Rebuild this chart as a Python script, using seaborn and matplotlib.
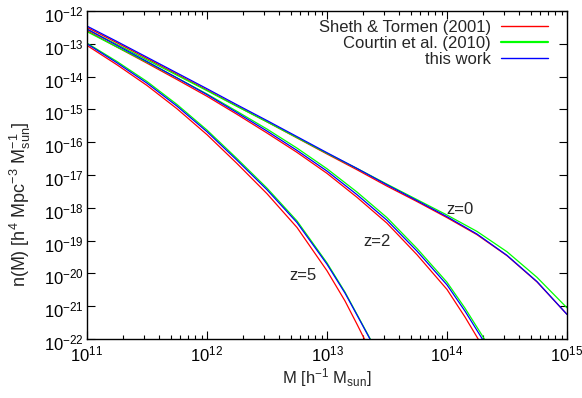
import numpy as np
import pandas as pd
import matplotlib
matplotlib.use("Agg")
import matplotlib.pyplot as plt
import matplotlib.transforms as mtransforms
import seaborn as sns
from matplotlib.ticker import LogLocator, NullLocator, NullFormatter

# ---- data (log10 values) ----
logM_z0 = [11.0, 11.25, 11.5, 11.75, 12.0, 12.25, 12.5, 12.75, 13.0, 13.25, 13.5, 13.75, 14.0, 14.25, 14.5, 14.75, 15.0]
st_z0 = [-12.50, -12.97, -13.45, -13.93, -14.41, -14.90, -15.38, -15.87, -16.36, -16.84, -17.34, -17.81, -18.30, -18.82, -19.46, -20.26, -21.25]
co_z0 = [-12.56, -13.02, -13.49, -13.96, -14.43, -14.91, -15.38, -15.86, -16.34, -16.80, -17.28, -17.75, -18.22, -18.72, -19.34, -20.12, -21.05]
tw_z0 = [-12.46, -12.93, -13.41, -13.89, -14.37, -14.86, -15.34, -15.83, -16.32, -16.80, -17.30, -17.78, -18.27, -18.80, -19.45, -20.25, -21.25]

logM_z2 = [11.0, 11.25, 11.5, 11.75, 12.0, 12.25, 12.5, 12.75, 13.0, 13.25, 13.5, 13.75, 14.0, 14.15, 14.32]
st_z2 = [-12.60, -13.10, -13.59, -14.09, -14.60, -15.15, -15.72, -16.31, -16.95, -17.68, -18.47, -19.43, -20.49, -21.33, -22.37]
co_z2 = [-12.63, -13.10, -13.56, -14.04, -14.53, -15.06, -15.60, -16.18, -16.81, -17.52, -18.30, -19.24, -20.27, -21.06, -22.05]
tw_z2 = [-12.55, -13.05, -13.54, -14.04, -14.55, -15.10, -15.66, -16.25, -16.88, -17.60, -18.38, -19.32, -20.35, -21.15, -22.15]

logM_z5 = [11.0, 11.25, 11.5, 11.75, 12.0, 12.25, 12.5, 12.75, 13.0, 13.15, 13.25, 13.38]
st_z5 = [-13.05, -13.64, -14.27, -14.98, -15.77, -16.65, -17.57, -18.60, -19.92, -20.84, -21.55, -22.50]
co_z5 = [-12.98, -13.54, -14.15, -14.85, -15.63, -16.50, -17.40, -18.40, -19.68, -20.57, -21.25, -22.13]
tw_z5 = [-13.00, -13.58, -14.20, -14.90, -15.68, -16.55, -17.45, -18.45, -19.72, -20.60, -21.27, -22.15]

models = ["Sheth & Tormen (2001)", "Courtin et al. (2010)", "this work"]
colors = ["#ff0000", "#00ff00", "#0000ff"]
z_labels = ["z=0", "z=2", "z=5"]
z_label_pos = [(14.11, -18.04), (13.42, -19.04), (12.80, -20.05)]

sets = [
    (logM_z0, [st_z0, co_z0, tw_z0]),
    (logM_z2, [st_z2, co_z2, tw_z2]),
    (logM_z5, [st_z5, co_z5, tw_z5]),
]

sns.set_style("ticks")
plt.rcParams["font.family"] = ["Liberation Sans", "DejaVu Sans"]
plt.rcParams["mathtext.default"] = "regular"
plt.rcParams["mathtext.fontset"] = "custom"
plt.rcParams["mathtext.rm"] = "Liberation Sans"
plt.rcParams["mathtext.it"] = "Liberation Sans"

FS = 12

fig = plt.figure(figsize=(5.82, 3.98), dpi=100)
ax = fig.add_axes([87/582, 1-339/398, 480/582, 328/398])

for logM, series in sets:
    for name, col, vals in zip(models, colors, series):
        df = pd.DataFrame({"M": 10.0**np.array(logM), "n": 10.0**np.array(vals)})
        sns.lineplot(data=df, x="M", y="n", color=col, lw=0.9, ax=ax,
                     estimator=None, sort=False, legend=False)

ax.set_xscale("log")
ax.set_yscale("log")
ax.set_xlim(1e11, 1e15)
ax.set_ylim(1e-22, 1e-12)

ax.xaxis.set_major_locator(LogLocator(base=10, numticks=20))
ax.xaxis.set_minor_locator(LogLocator(base=10, subs=np.arange(2, 10), numticks=20))
ax.xaxis.set_minor_formatter(NullFormatter())
ax.yaxis.set_major_locator(LogLocator(base=10, numticks=20))
ax.yaxis.set_minor_locator(NullLocator())

ax.tick_params(which="both", direction="in", top=True, right=True, colors="black",
               labelsize=FS, width=0.8)
ax.tick_params(which="major", length=6)
ax.tick_params(which="minor", length=3)
ax.tick_params(axis="x", which="major", pad=4)
ax.tick_params(axis="y", which="major", pad=2)
for s in ax.spines.values():
    s.set_linewidth(1.0)
    s.set_color("black")

ax.set_xlabel(r"M [h$^{-1}$ M$_{sun}$]", fontsize=FS, labelpad=1)
ax.set_ylabel(r"n(M) [h$^{4}$ Mpc$^{-3}$ M$_{sun}^{-1}$]", fontsize=13)
ax.yaxis.set_label_coords(-0.113, 0.41)

for lab, (lx, ly) in zip(z_labels, z_label_pos):
    ax.text(10**lx, 10**ly, lab, ha="center", va="center", fontsize=FS)

handles = [plt.Line2D([], [], color=c, lw=1.0 if c != "#00ff00" else 1.6) for c in colors]
ax.legend(handles, models, loc="upper right", bbox_to_anchor=(0.96, 0.973),
          frameon=False, markerfirst=False, fontsize=FS, handlelength=2.8,
          handletextpad=0.6, labelspacing=0.05, borderpad=0, borderaxespad=0)

fig.canvas.draw()
shift = mtransforms.ScaledTranslation(0, -3/100, fig.dpi_scale_trans)
for t in ax.yaxis.get_majorticklabels():
    t.set_transform(t.get_transform() + shift)

fig.savefig("out.png", dpi=100)
